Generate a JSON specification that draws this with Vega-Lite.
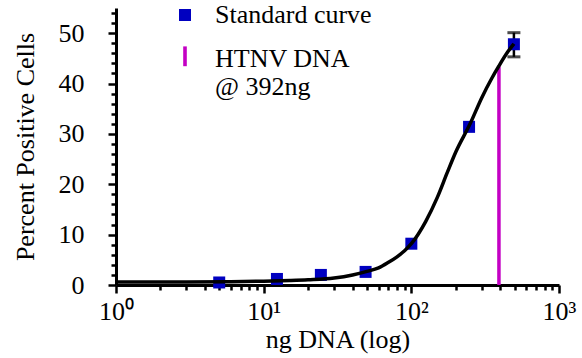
{
  "$schema": "https://vega.github.io/schema/vega-lite/v6.json",
  "width": 443,
  "height": 277,
  "autosize": {"type": "none"},
  "padding": {"left": 116, "top": 8, "right": 23, "bottom": 73},
  "background": "white",
  "config": {
    "view": {"stroke": null},
    "font": "Times New Roman, Liberation Serif, serif",
    "axis": {
      "grid": false,
      "domainColor": "black",
      "domainWidth": 3,
      "tickColor": "black",
      "tickWidth": 2.5,
      "labelColor": "black",
      "labelFont": "Times New Roman, Liberation Serif, serif",
      "labelFontSize": 26,
      "titleFont": "Times New Roman, Liberation Serif, serif",
      "titleFontSize": 26,
      "titleFontWeight": "normal",
      "titleColor": "black",
      "labelFlush": false,
      "labelOverlap": false
    },
    "legend": {"labelFont": "Times New Roman, Liberation Serif, serif", "labelFontSize": 26}
  },
  "datasets": {
    "points": [
      {"ng": 5, "pct": 0.5, "series": "Standard curve"},
      {"ng": 12.3, "pct": 1.2, "series": "Standard curve"},
      {"ng": 24.4, "pct": 2.0, "series": "Standard curve"},
      {"ng": 49, "pct": 2.6, "series": "Standard curve"},
      {"ng": 100, "pct": 8.2, "series": "Standard curve"},
      {"ng": 246, "pct": 31.4, "series": "Standard curve"},
      {"ng": 495, "pct": 47.8, "series": "Standard curve"}
    ],
    "curve": [
      {"ng": 1, "pct": 0.6}, {"ng": 3, "pct": 0.6}, {"ng": 6, "pct": 0.65},
      {"ng": 10, "pct": 0.75}, {"ng": 15, "pct": 0.9}, {"ng": 20, "pct": 1.05},
      {"ng": 30, "pct": 1.4}, {"ng": 40, "pct": 2.0}, {"ng": 50, "pct": 2.7},
      {"ng": 60, "pct": 3.4}, {"ng": 70, "pct": 4.5}, {"ng": 80, "pct": 5.6},
      {"ng": 90, "pct": 6.8}, {"ng": 100, "pct": 8.2}, {"ng": 125, "pct": 12.6},
      {"ng": 150, "pct": 17.4}, {"ng": 175, "pct": 22.3}, {"ng": 200, "pct": 26.4},
      {"ng": 250, "pct": 32.0}, {"ng": 300, "pct": 37.2}, {"ng": 350, "pct": 41.0},
      {"ng": 392, "pct": 43.5}, {"ng": 450, "pct": 46.3}, {"ng": 495, "pct": 47.9}
    ],
    "err": [{"ng": 495, "pct": 45.3, "pct2": 50.1}],
    "htnv": [{"ng": 392, "pct": 0, "pct2": 43.4}]
  },
  "encoding": {
    "x": {
      "field": "ng",
      "type": "quantitative",
      "scale": {"type": "log", "domain": [1, 1000], "nice": false},
      "axis": {
        "title": "ng DNA (log)",
        "labelFont": "Times New Roman, Liberation Serif, serif",
        "titleFont": "Times New Roman, Liberation Serif, serif",
        "values": [1,2,3,4,5,6,7,8,9,10,20,30,40,50,60,70,80,90,100,200,300,400,500,600,700,800,900,1000],
        "labelExpr": "datum.value == 1 ? '10⁰' : datum.value == 10 ? '10¹' : datum.value == 100 ? '10²' : datum.value == 1000 ? '10³' : ''",
        "tickSize": {"condition": {"test": "indexof([1,10,100,1000], datum.value) >= 0", "value": 8}, "value": 5},
        "labelPadding": 5,
        "titlePadding": 2
      }
    },
    "y": {
      "field": "pct",
      "type": "quantitative",
      "scale": {"domain": [0, 55], "nice": false},
      "axis": {
        "title": "Percent Positive Cells",
        "labelFont": "Times New Roman, Liberation Serif, serif",
        "titleFont": "Times New Roman, Liberation Serif, serif",
        "values": [0,2,4,6,8,10,12,14,16,18,20,22,24,26,28,30,32,34,36,38,40,42,44,46,48,50,52,54],
        "labelExpr": "datum.value % 10 == 0 ? datum.label : ''",
        "tickSize": {"condition": {"test": "datum.value % 10 == 0", "value": 8}, "value": 5},
        "labelPadding": 24,
        "titlePadding": 20
      }
    }
  },
  "layer": [
    {
      "data": {"name": "htnv"},
      "mark": {"type": "rule", "color": "#c400c4", "strokeWidth": 3.5},
      "encoding": {"y2": {"field": "pct2"}}
    },
    {
      "data": {"name": "err"},
      "mark": {
        "type": "errorbar",
        "ticks": {"size": 13, "thickness": 3, "color": "black"},
        "rule": {"strokeWidth": 2.5, "color": "black"}
      },
      "encoding": {"y2": {"field": "pct2"}}
    },
    {
      "data": {"name": "points"},
      "mark": {"type": "point", "filled": true, "opacity": 1, "size": 144},
      "encoding": {
        "color": {
          "field": "series",
          "type": "nominal",
          "scale": {"domain": ["Standard curve", "HTNV DNA"], "range": ["#0000c0", "#c400c4"]},
          "legend": {
            "title": null,
            "orient": "none",
            "legendX": 56,
            "legendY": -6,
            "labelFont": "Times New Roman, Liberation Serif, serif",
            "labelFontSize": 26,
            "labelColor": "black",
            "labelOffset": 17,
            "labelLimit": 300,
            "symbolSize": 144,
            "symbolOpacity": 1,
            "rowPadding": 15,
            "labelExpr": "datum.label == 'HTNV DNA' ? ['HTNV DNA', '@ 392ng'] : datum.label"
          }
        },
        "shape": {
          "field": "series",
          "type": "nominal",
          "scale": {"domain": ["Standard curve", "HTNV DNA"], "range": ["square", "M-0.3,-2.1H0.3V1.2H-0.3Z"]},
          "legend": {
            "title": null,
            "orient": "none",
            "legendX": 56,
            "legendY": -6,
            "labelFont": "Times New Roman, Liberation Serif, serif",
            "labelFontSize": 26,
            "labelColor": "black",
            "labelOffset": 17,
            "labelLimit": 300,
            "symbolSize": 144,
            "symbolOpacity": 1,
            "rowPadding": 15,
            "labelExpr": "datum.label == 'HTNV DNA' ? ['HTNV DNA', '@ 392ng'] : datum.label"
          }
        }
      }
    },
    {
      "data": {"name": "curve"},
      "mark": {"type": "line", "color": "black", "strokeWidth": 3.5, "interpolate": "monotone"}
    }
  ]
}
